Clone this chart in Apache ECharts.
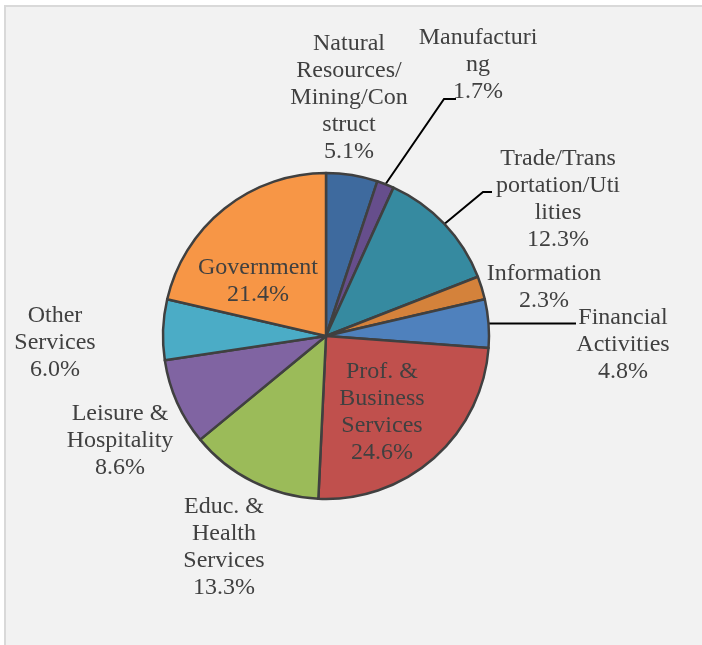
<!DOCTYPE html>
<html>
<head>
<meta charset="utf-8">
<script src="https://cdn.jsdelivr.net/npm/echarts@6/dist/echarts.min.js"></script>
<style>
  html, body { margin: 0; padding: 0; background: #ffffff; }
  #wrap { position: relative; width: 702px; height: 645px; overflow: hidden; }
  #frame { position: absolute; left: 4px; top: 5px; width: 720px; height: 660px;
           background: #f2f2f2; border-top: 2px solid #d9d9d9; border-left: 2px solid #d9d9d9; }
  #chart { position: absolute; left: 0; top: 0; width: 702px; height: 645px; }
</style>
</head>
<body>
<div id="wrap">
  <div id="frame"></div>
  <div id="chart"></div>
</div>
<script>
// ---- data ----
const categories = [
  'Natural\nResources/\nMining/Con\nstruct',
  'Manufacturi\nng',
  'Trade/Trans\nportation/Uti\nlities',
  'Information',
  'Financial\nActivities',
  'Prof. &\nBusiness\nServices',
  'Educ. &\nHealth\nServices',
  'Leisure &\nHospitality',
  'Other\nServices',
  'Government'
];
const shares = [5.1, 1.7, 12.3, 2.3, 4.8, 24.6, 13.3, 8.6, 6.0, 21.4];

// ---- styling / layout (not data) ----
const colors = ['#3e6a9e', '#664e8c', '#368aa0', '#d4823b', '#4f81bd',
                '#c0504d', '#9bbb59', '#8064a2', '#4bacc6', '#f79646'];
const CX = 326, CY = 336, R = 163;
const inside = [false, false, false, false, false, true, false, false, false, true];
const hasLeader = [false, true, true, false, true, false, false, false, false, false];
// label anchor (block centre) for each slice
const labelPos = [
  [349, 98], [478, 65], [558, 199], [544, 287], [623, 345],
  [382, 412], [224, 547], [120, 441], [55, 343], [258, 281]
];
// leader elbow points, relative to label anchor
const leaderPts = {
  1: [[-34, 34], [-22, 34]],
  2: [[-75, -7], [-66, -7]],
  4: [[-47, null], [-47, null]]
};

const chart = echarts.init(document.getElementById('chart'), null, { renderer: 'canvas' });

const total = shares.reduce((a, b) => a + b, 0);
function edgePoint(i) {
  let before = 0;
  for (let k = 0; k < i; k++) before += shares[k];
  const mid = (before + shares[i] / 2) / total * Math.PI * 2;
  return [CX + R * Math.sin(mid), CY - R * Math.cos(mid)];
}

const data = categories.map((name, i) => ({
  name: name,
  value: shares[i],
  itemStyle: { color: colors[i] },
  label: { position: inside[i] ? 'inside' : 'outside' },
  labelLine: { show: hasLeader[i] }
}));

chart.setOption({
  backgroundColor: 'transparent',
  animation: false,
  series: [{
    type: 'pie',
    center: [CX, CY],
    radius: R,
    startAngle: 90,
    clockwise: true,
    avoidLabelOverlap: false,
    data: data,
    itemStyle: { borderColor: '#404040', borderWidth: 2.5 },
    label: {
      show: true,
      formatter: p => p.name + '\n' + Number(p.value).toFixed(1) + '%',
      fontFamily: 'Liberation Serif',
      fontSize: 24,
      lineHeight: 27,
      color: '#404040',
      align: 'center'
    },
    labelLine: { show: true, length: 10, length2: 10, lineStyle: { color: '#000000', width: 2 } },
    labelLayout: function (params) {
      const i = params.dataIndex;
      const [lx, ly] = labelPos[i];
      const out = { x: lx, y: ly, align: 'center', verticalAlign: 'middle' };
      if (hasLeader[i]) {
        const p0 = edgePoint(i);
        const pts = [p0];
        leaderPts[i].forEach(d => pts.push([lx + d[0], d[1] === null ? p0[1] : ly + d[1]]));
        out.labelLinePoints = pts;
      }
      return out;
    }
  }]
});
</script>
</body>
</html>
